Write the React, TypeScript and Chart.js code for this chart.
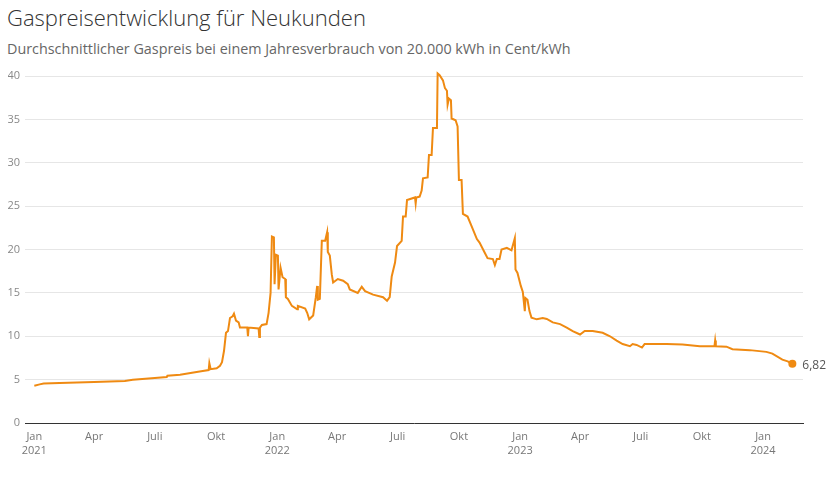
import React, { useEffect, useRef } from "react";
import { Chart, registerables } from "chart.js";

Chart.register(...registerables);

const TITLE = "Gaspreisentwicklung für Neukunden";
const SUBTITLE = "Durchschnittlicher Gaspreis bei einem Jahresverbrauch von 20.000 kWh in Cent/kWh";
const LAST_LABEL = "6,82";

const dates: string[] = [
  "2021-01-01", "2021-01-09", "2021-01-15", "2021-02-08", "2021-04-01", "2021-05-17", "2021-05-29",
  "2021-07-01", "2021-07-19", "2021-07-20", "2021-08-08", "2021-08-26", "2021-09-11", "2021-09-20",
  "2021-09-21", "2021-09-23", "2021-10-02", "2021-10-07", "2021-10-10", "2021-10-13", "2021-10-16",
  "2021-10-19", "2021-10-22", "2021-10-26", "2021-10-28", "2021-10-31", "2021-11-04", "2021-11-06",
  "2021-11-17", "2021-11-18", "2021-11-19", "2021-12-04", "2021-12-05", "2021-12-06", "2021-12-09",
  "2021-12-16", "2021-12-19", "2021-12-22", "2021-12-24", "2021-12-27", "2021-12-28", "2021-12-30",
  "2022-01-02", "2022-01-03", "2022-01-06", "2022-01-09", "2022-01-13", "2022-01-14", "2022-01-17",
  "2022-01-23", "2022-01-31", "2022-02-01", "2022-02-12", "2022-02-15", "2022-02-18", "2022-02-24",
  "2022-02-28", "2022-03-02", "2022-03-03", "2022-03-06", "2022-03-09", "2022-03-14", "2022-03-17",
  "2022-03-18", "2022-03-21", "2022-03-24", "2022-03-26", "2022-04-02", "2022-04-10", "2022-04-17",
  "2022-04-20", "2022-05-02", "2022-05-08", "2022-05-13", "2022-05-25", "2022-06-09", "2022-06-15",
  "2022-06-19", "2022-06-22", "2022-06-27", "2022-06-30", "2022-07-07", "2022-07-09", "2022-07-13",
  "2022-07-15", "2022-07-27", "2022-07-28", "2022-07-29", "2022-08-03", "2022-08-06", "2022-08-08",
  "2022-08-15", "2022-08-17", "2022-08-21", "2022-08-23", "2022-08-29", "2022-08-30", "2022-09-02",
  "2022-09-07", "2022-09-10", "2022-09-13", "2022-09-14", "2022-09-16", "2022-09-19", "2022-09-20",
  "2022-09-26", "2022-09-29", "2022-10-01", "2022-10-05", "2022-10-07", "2022-10-14", "2022-10-20",
  "2022-10-28", "2022-11-01", "2022-11-09", "2022-11-13", "2022-11-21", "2022-11-24", "2022-11-27",
  "2022-12-01", "2022-12-04", "2022-12-12", "2022-12-19", "2022-12-24", "2022-12-25", "2022-12-28",
  "2023-01-02", "2023-01-05", "2023-01-08", "2023-01-09", "2023-01-12", "2023-01-15", "2023-01-18",
  "2023-01-26", "2023-02-04", "2023-02-10", "2023-02-19", "2023-03-02", "2023-03-12", "2023-03-21",
  "2023-04-01", "2023-04-08", "2023-04-20", "2023-05-05", "2023-05-16", "2023-05-26", "2023-06-04",
  "2023-06-15", "2023-06-19", "2023-06-25", "2023-07-03", "2023-07-07", "2023-08-09", "2023-09-02",
  "2023-09-28", "2023-10-20", "2023-10-21", "2023-10-22", "2023-11-07", "2023-11-16", "2023-12-12",
  "2024-01-06", "2024-01-15", "2024-01-30", "2024-02-07", "2024-02-14",
];

const prices: number[] = [
  4.3, 4.45, 4.55, 4.6, 4.72, 4.85, 4.98,
  5.2, 5.3, 5.45, 5.55, 5.8, 6.0, 6.1,
  6.9, 6.2, 6.3, 6.6, 7.0, 8.3, 10.4,
  10.6, 12.1, 12.3, 12.6, 11.8, 11.6, 11.0,
  11.0, 10.0, 11.0, 10.9, 9.9, 11.0, 11.3,
  11.4, 12.7, 15.0, 21.5, 21.4, 16.0, 19.4,
  19.3, 15.4, 17.9, 16.8, 16.6, 14.5, 14.3,
  13.5, 13.1, 13.5, 13.2, 12.7, 11.95, 12.4,
  14.5, 15.8, 14.2, 14.3, 21.0, 21.0, 22.0,
  19.7, 19.3, 17.1, 16.2, 16.6, 16.4, 16.0,
  15.4, 15.0, 15.7, 15.2, 14.8, 14.5, 14.1,
  14.5, 16.9, 18.5, 20.4, 21.0, 23.8, 23.8,
  25.7, 26.0, 25.3, 26.0, 26.1, 26.8, 28.2,
  28.3, 30.9, 30.9, 34.0, 34.0, 40.3, 40.1,
  39.5, 38.6, 38.3, 36.7, 37.4, 37.2, 35.1,
  34.9, 34.2, 28.0, 28.0, 24.1, 23.8, 22.7,
  21.2, 20.8, 19.6, 19.0, 18.9, 18.2, 18.9,
  18.9, 20.0, 20.2, 19.9, 21.3, 17.7, 17.3,
  15.8, 15.1, 12.9, 14.4, 14.2, 12.9, 12.15,
  11.95, 12.1, 12.0, 11.6, 11.4, 11.0, 10.6,
  10.2, 10.6, 10.6, 10.4, 10.0, 9.5, 9.1,
  8.85, 9.1, 9.0, 8.7, 9.1, 9.1, 9.05,
  8.85, 8.85, 9.5, 8.85, 8.8, 8.5, 8.4,
  8.2, 8.0, 7.3, 7.1, 6.82,
];

const yTicks: number[] = [0, 5, 10, 15, 20, 25, 30, 35, 40];
const xTickDates: string[] = [
  "2021-01-01", "2021-04-01", "2021-07-01", "2021-10-01",
  "2022-01-01", "2022-04-01", "2022-07-01", "2022-10-01",
  "2023-01-01", "2023-04-01", "2023-07-01", "2023-10-01",
  "2024-01-01",
];
const xTickMonths: string[] = ["Jan", "Apr", "Juli", "Okt", "Jan", "Apr", "Juli", "Okt", "Jan", "Apr", "Juli", "Okt", "Jan"];
const xTickYears: string[] = ["2021", "", "", "", "2022", "", "", "", "2023", "", "", "", "2024"];
const X_MIN_DATE = "2020-12-18";
const X_MAX_DATE = "2024-03-01";

const BASE = Date.UTC(2021, 0, 1);
const dayOf = (s: string) => Math.round((Date.parse(s) - BASE) / 86400000);

const ORANGE = "#ef8a12";
const FONT = '"Open Sans", "Noto Sans", sans-serif';

export default function App() {
  const ref = useRef<HTMLCanvasElement | null>(null);

  useEffect(() => {
    if (!ref.current) return;
    const points = dates.map((d, i) => ({ x: dayOf(d), y: prices[i] }));
    const tickDays = xTickDates.map(dayOf);
    const lastIndex = prices.length - 1;

    const endLabel = {
      id: "endLabel",
      afterDatasetsDraw(chart: any) {
        const meta = chart.getDatasetMeta(0);
        const pt = meta.data[meta.data.length - 1];
        if (!pt) return;
        const ctx = chart.ctx;
        ctx.save();
        ctx.font = `12px ${FONT}`;
        ctx.fillStyle = "#555";
        ctx.textAlign = "left";
        ctx.textBaseline = "middle";
        ctx.fillText(LAST_LABEL, pt.x + 10, pt.y + 2);
        ctx.restore();
      },
    };

    const chart = new Chart(ref.current, {
      type: "line",
      data: {
        datasets: [
          {
            data: points,
            borderColor: ORANGE,
            backgroundColor: ORANGE,
            borderWidth: 2,
            tension: 0,
            clip: false as any,
            pointRadius: (c: any) => (c.dataIndex === lastIndex ? 4 : 0),
            pointHoverRadius: 0,
            pointBorderWidth: 0,
            pointBackgroundColor: ORANGE,
          },
        ],
      },
      options: {
        animation: false,
        responsive: false,
        events: [],
        layout: { padding: { left: 8, right: 31, top: 76, bottom: 0 } },
        plugins: {
          legend: { display: false },
          tooltip: { enabled: false },
          title: { display: false },
        },
        scales: {
          x: {
            type: "linear",
            min: dayOf(X_MIN_DATE),
            max: dayOf(X_MAX_DATE),
            afterBuildTicks: (scale: any) => {
              scale.ticks = tickDays.map((v) => ({ value: v }));
            },
            afterFit: (scale: any) => {
              scale.height = 54;
            },
            grid: { display: false, drawTicks: false },
            border: { display: true, color: "#333", width: 1 },
            ticks: {
              autoSkip: false,
              maxRotation: 0,
              minRotation: 0,
              padding: 6,
              color: "#777",
              font: { family: FONT, size: 11, lineHeight: 1.35 },
              callback: (value: any) => {
                const i = tickDays.indexOf(Number(value));
                if (i < 0) return "";
                return xTickYears[i] ? [xTickMonths[i], xTickYears[i]] : xTickMonths[i];
              },
            },
          },
          y: {
            min: 0,
            max: 40,
            afterBuildTicks: (scale: any) => {
              scale.ticks = yTicks.map((v) => ({ value: v }));
            },
            afterFit: (scale: any) => {
              scale.width = 17;
            },
            grid: { color: "#e6e6e6", drawTicks: false, lineWidth: 1 },
            border: { display: false },
            ticks: {
              padding: 5,
              color: "#888",
              font: { family: FONT, size: 11 },
            },
          },
        },
      },
      plugins: [endLabel],
    } as any);

    return () => chart.destroy();
  }, []);

  return (
    <div style={{ position: "absolute", left: 0, top: 0, width: 834, height: 477, background: "#fff", overflow: "hidden" }}>
      <div
        style={{
          position: "absolute",
          left: 7,
          top: 6,
          fontFamily: FONT,
          fontWeight: 300,
          fontSize: 22,
          lineHeight: "22px",
          color: "#333",
          whiteSpace: "nowrap",
        }}
      >
        {TITLE}
      </div>
      <div
        style={{
          position: "absolute",
          left: 7,
          top: 42,
          fontFamily: FONT,
          fontSize: 14.35,
          lineHeight: "14px",
          color: "#666",
          whiteSpace: "nowrap",
        }}
      >
        {SUBTITLE}
      </div>
      <canvas ref={ref} width={834} height={477} style={{ position: "absolute", left: 0, top: 0, width: 834, height: 477 }} />
    </div>
  );
}
